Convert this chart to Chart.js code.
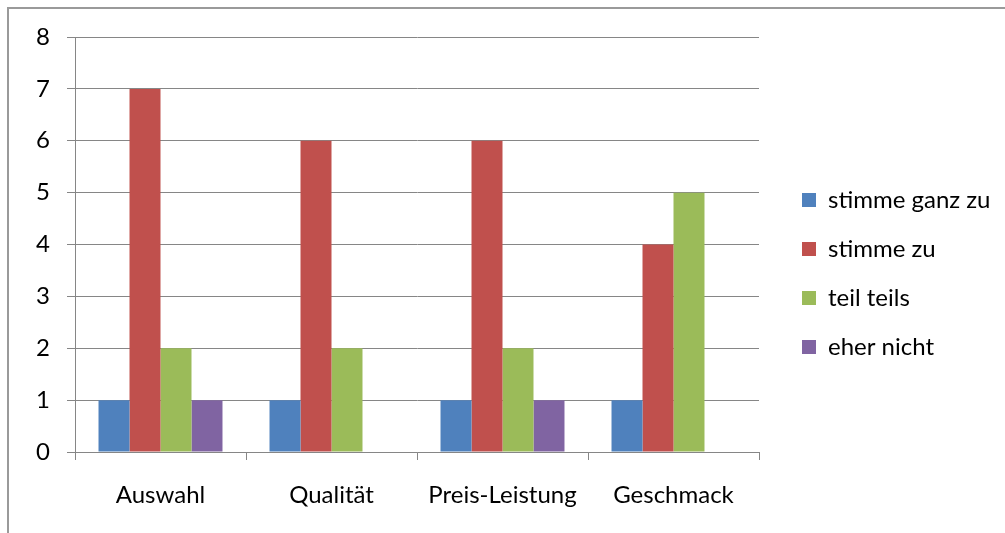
<!DOCTYPE html>
<html>
<head>
<meta charset="utf-8">
<script src="https://cdn.jsdelivr.net/npm/chart.js@4/dist/chart.umd.min.js"></script>
<style>
  html, body { margin: 0; padding: 0; background: #fff; overflow: hidden; }
  #wrap { position: relative; width: 1005px; height: 533px; }
  #frame { position: absolute; left: 7px; top: 7px; width: 1200px; height: 800px; border-left: 2px solid #9a9a9a; border-top: 2px solid #9a9a9a; }
  canvas { position: absolute; left: 0; top: 0; }
</style>
</head>
<body>
<div id="wrap">
  <div id="frame"></div>
  <canvas id="c" width="1005" height="533"></canvas>
</div>
<script>
const categories = ['Auswahl', 'Qualität', 'Preis-Leistung', 'Geschmack'];
const seriesNames = ['stimme ganz zu', 'stimme zu', 'teil teils', 'eher nicht'];
const stimmeGanzZu = [1, 1, 1, 1];
const stimmeZu = [7, 6, 6, 4];
const teilTeils = [2, 2, 2, 5];
const eherNicht = [1, 0, 1, 0];
const yTicks = [0, 1, 2, 3, 4, 5, 6, 7, 8];

const colors = ['#4F81BD', '#C0504D', '#9BBB59', '#8064A2'];
const FONT = 'Lato';
const FS = 24;
const gridColor = '#868686';

function build() {
  const mctx = document.createElement('canvas').getContext('2d');
  mctx.font = FS + 'px ' + FONT;
  const maxText = Math.max(...seriesNames.map(s => mctx.measureText(s).width));
  const legPad = 25, boxW = 14;
  const legendW = legPad + boxW + FS / 2 + maxText + 10;
  const plotRight = 759, gapW = 18;
  const padRight = Math.max(0, 1005 - plotRight - gapW - legendW);
  const padBottom = 23;

  const data = {
    labels: categories,
    datasets: [stimmeGanzZu, stimmeZu, teilTeils, eherNicht].map((d, i) => ({
      label: seriesNames[i],
      data: d,
      backgroundColor: colors[i],
      borderWidth: 0,
      categoryPercentage: 0.725,
      barPercentage: 1.0
    }))
  };

  new Chart(document.getElementById('c'), {
    type: 'bar',
    data,
    options: {
      responsive: false,
      animation: false,
      devicePixelRatio: 1,
      layout: { padding: { top: 37, left: 0, right: padRight, bottom: padBottom } },
      plugins: {
        tooltip: { enabled: false },
        legend: {
          position: 'right',
          align: 'center',
          maxWidth: 400,
          labels: {
            boxWidth: boxW,
            boxHeight: boxW,
            padding: legPad,
            color: '#000',
            font: { family: FONT, size: FS }
          }
        }
      },
      scales: {
        x: {
          grid: { offset: true, drawOnChartArea: false, drawTicks: true, tickLength: 8, color: gridColor },
          border: { display: true, color: gridColor, width: 1 },
          ticks: { color: '#000', font: { family: FONT, size: FS }, padding: 21, maxRotation: 0 },
          afterFit: s => { s.height = 533 - padBottom - 452; }
        },
        y: {
          min: 0, max: 8,
          afterBuildTicks: s => { s.ticks = yTicks.map(v => ({ value: v })); },
          grid: { color: gridColor, tickLength: 8, drawTicks: true },
          border: { display: true, color: gridColor, width: 1 },
          ticks: { color: '#000', font: { family: FONT, size: FS }, padding: 17, stepSize: 1 },
          afterFit: s => { s.width = 75; }
        },
        gap: {
          type: 'linear',
          position: 'right',
          display: true,
          grid: { display: false },
          border: { display: false },
          ticks: { display: false },
          afterFit: s => { s.width = gapW; }
        }
      }
    }
  });
}

if (document.fonts && document.fonts.load) {
  document.fonts.load(FS + 'px ' + FONT).then(build, build);
} else {
  build();
}
</script>
</body>
</html>
